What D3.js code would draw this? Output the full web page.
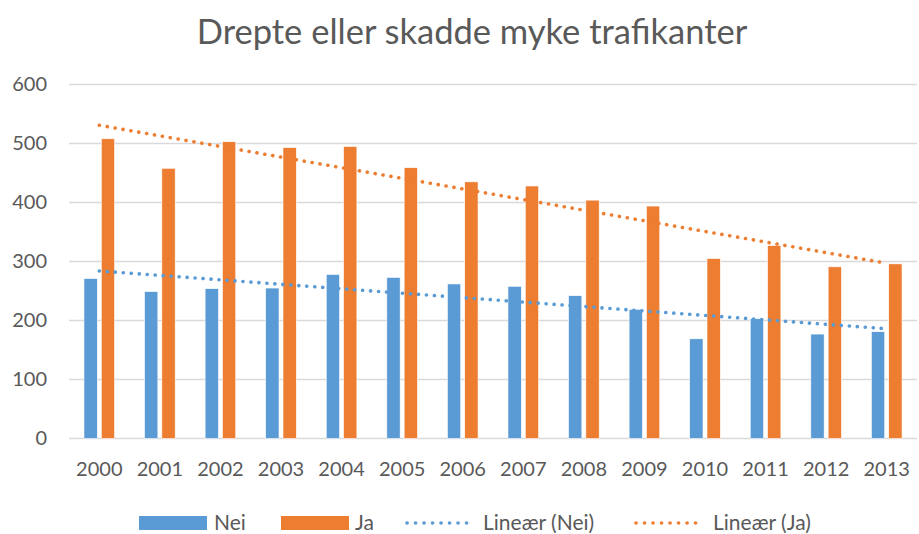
<!DOCTYPE html>
<html>
<head>
<meta charset="utf-8">
<script src="https://cdn.jsdelivr.net/npm/d3@7"></script>
<style>
  body { margin: 0; background: #fff; }
  svg { font-family: Lato, "Open Sans", sans-serif; }
</style>
</head>
<body>
<div id="chart"></div>
<script>
// Values
const years = ["2000", "2001", "2002", "2003", "2004", "2005", "2006",
               "2007", "2008", "2009", "2010", "2011", "2012", "2013"];
const nei = [271, 249, 254, 255, 278, 273, 262, 258, 242, 219, 169, 203, 177, 181];
const ja  = [508, 458, 503, 493, 495, 459, 435, 428, 404, 394, 305, 327, 291, 296];
// linear trend values at first and last year
const trendNei = [284, 186];
const trendJa  = [531, 297];
const yTicks = [0, 100, 200, 300, 400, 500, 600];

const width = 919, height = 534;
const blue = "#5B9BD5", orange = "#ED7D31", grid = "#D9D9D9", textCol = "#595959";

const svg = d3.select("#chart").append("svg")
  .attr("width", width)
  .attr("height", height);

// Scales
const x = d3.scaleBand().domain(years).range([69, 917]);
const step = x.step();
const x1 = d3.scaleBand()
  .domain(["Nei", "Ja"])
  .range([step * 0.247, step * 0.753])
  .paddingInner(0.23);
const y = d3.scaleLinear().domain([0, 600]).range([438.5, 84.5]);

// Title
svg.append("text")
  .attr("x", 472)
  .attr("y", 44)
  .attr("text-anchor", "middle")
  .style("font-size", "34.5px")
  .style("fill", textCol)
  .text("Drepte eller skadde myke trafikanter");

// Gridlines
svg.append("g")
  .selectAll("line")
  .data(yTicks)
  .enter()
  .append("line")
  .attr("x1", 69)
  .attr("x2", 917)
  .attr("y1", (d) => y(d))
  .attr("y2", (d) => y(d))
  .style("stroke", grid)
  .style("stroke-width", 1.3);

// Y axis labels
const yAxis = svg.append("g")
  .attr("transform", "translate(47,0)")
  .call(d3.axisLeft(y).tickValues(yTicks).tickSize(0).tickPadding(0));
yAxis.select(".domain").remove();
yAxis.selectAll("text")
  .style("font-size", "20px")
  .style("font-family", "Lato, sans-serif")
  .style("fill", textCol);

// X axis labels
const xAxis = svg.append("g")
  .attr("transform", "translate(0,458)")
  .call(d3.axisBottom(x).tickSize(0).tickPadding(4));
xAxis.select(".domain").remove();
xAxis.selectAll("text")
  .style("font-size", "20px")
  .style("font-family", "Lato, sans-serif")
  .style("fill", textCol);

// Bars
const rows = years.map((yr, i) => ({ year: yr, Nei: nei[i], Ja: ja[i] }));
const groups = svg.append("g")
  .selectAll("g")
  .data(rows)
  .enter()
  .append("g")
  .attr("transform", (d) => "translate(" + x(d.year) + ",0)");

groups.selectAll("rect")
  .data((d) => [{ key: "Nei", value: d.Nei }, { key: "Ja", value: d.Ja }])
  .enter()
  .append("rect")
  .attr("x", (d) => x1(d.key))
  .attr("width", x1.bandwidth())
  .attr("y", (d) => y(d.value))
  .attr("height", (d) => y(0) - y(d.value))
  .style("fill", (d) => (d.key === "Nei" ? blue : orange))
  .style("stroke", "#fff")
  .style("stroke-width", 0.6);

// Trend lines
const trendData = [
  { color: blue, values: trendNei },
  { color: orange, values: trendJa },
];
const first = years[0], last = years[years.length - 1];
svg.append("g")
  .selectAll("line")
  .data(trendData)
  .enter()
  .append("line")
  .attr("x1", x(first) + step / 2)
  .attr("x2", x(last) + step / 2)
  .attr("y1", (d) => y(d.values[0]))
  .attr("y2", (d) => y(d.values[1]))
  .style("stroke", (d) => d.color)
  .style("stroke-width", 3.6)
  .style("stroke-linecap", "round")
  .style("stroke-dasharray", "0.1 7.9");

// Legend
const legend = svg.append("g").style("font-size", "21px").style("fill", textCol);
const legendItems = [
  { label: "Nei", type: "rect", color: blue, x: 139, tx: 214 },
  { label: "Ja", type: "rect", color: orange, x: 281, tx: 355 },
  { label: "Lineær (Nei)", type: "line", color: blue, x: 406, tx: 483 },
  { label: "Lineær (Ja)", type: "line", color: orange, x: 635, tx: 713 },
];
legendItems.forEach((d) => {
  if (d.type === "rect") {
    legend.append("rect")
      .attr("x", d.x).attr("y", 516)
      .attr("width", 68).attr("height", 14)
      .style("fill", d.color);
  } else {
    legend.append("line")
      .attr("x1", d.x + 1).attr("x2", d.x + 68)
      .attr("y1", 523).attr("y2", 523)
      .style("stroke", d.color)
      .style("stroke-width", 3.6)
      .style("stroke-linecap", "round")
      .style("stroke-dasharray", "0.1 8.4");
  }
  legend.append("text")
    .attr("x", d.tx).attr("y", 530)
    .text(d.label);
});
</script>
</body>
</html>
